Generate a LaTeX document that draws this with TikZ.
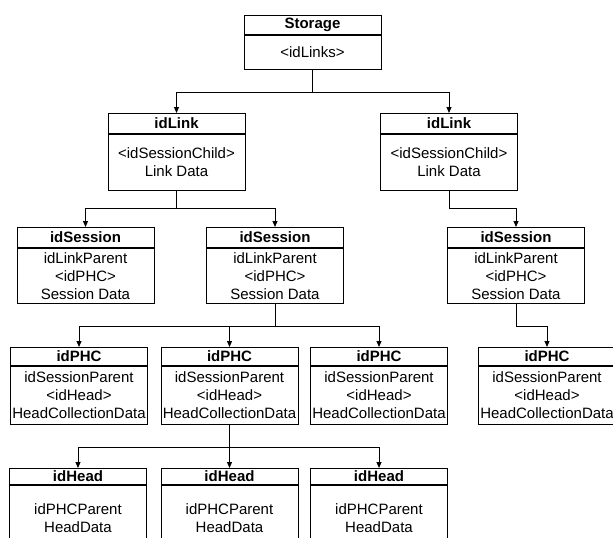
\documentclass[tikz,border=0pt]{standalone}
\usepackage{fontspec}
\setmainfont{Liberation Sans}
\usetikzlibrary{arrows.meta}
\tikzset{
  hdr/.style={draw, line width=1pt, minimum width=137pt, inner sep=0pt, anchor=north,
    font=\fontsize{15}{18}\selectfont\bfseries},
  bdy/.style={draw, line width=1pt, minimum width=137pt, inner sep=0pt, anchor=north, align=center,
    font=\fontsize{15}{18}\selectfont},
  arr/.style={line width=1pt, -{Triangle[length=6pt,width=5pt]}},
}
\begin{document}
\begin{tikzpicture}[x=1pt,y=-1pt]
\useasboundingbox (0,0) rectangle (613,538);
\clip (0,0) rectangle (613,538);
\fill[white] (0,0) rectangle (613,538);
% Storage
\node[hdr, minimum height=19pt] (st) at (312.5,15) {Storage};
\node[bdy, minimum height=34pt] (stb) at (st.south) {<idLinks>};
% idLink
\node[hdr, minimum height=20pt] (l1) at (176.5,113) {idLink};
\node[bdy, minimum height=56pt] (l1b) at (l1.south) {<idSessionChild>\\Link Data};
\node[hdr, minimum height=20pt] (l2) at (449,113) {idLink};
\node[bdy, minimum height=56pt] (l2b) at (l2.south) {<idSessionChild>\\Link Data};
% idSession
\node[hdr, minimum height=19.5pt] (s1) at (85.5,227) {idSession};
\node[bdy, minimum height=55.5pt] (s1b) at (s1.south) {idLinkParent\\<idPHC>\\Session Data};
\node[hdr, minimum height=19.5pt] (s2) at (275,227) {idSession};
\node[bdy, minimum height=55.5pt] (s2b) at (s2.south) {idLinkParent\\<idPHC>\\Session Data};
\node[hdr, minimum height=19.5pt] (s3) at (516,227) {idSession};
\node[bdy, minimum height=55.5pt] (s3b) at (s3.south) {idLinkParent\\<idPHC>\\Session Data};
% idPHC
\node[hdr, minimum height=18pt] (p1) at (79,347) {idPHC};
\node[bdy, minimum height=58pt] (p1b) at (p1.south) {idSessionParent\\<idHead>\\HeadCollectionData};
\node[hdr, minimum height=18pt] (p2) at (229.5,347) {idPHC};
\node[bdy, minimum height=58pt] (p2b) at (p2.south) {idSessionParent\\<idHead>\\HeadCollectionData};
\node[hdr, minimum height=18pt] (p3) at (379,347) {idPHC};
\node[bdy, minimum height=58pt] (p3b) at (p3.south) {idSessionParent\\<idHead>\\HeadCollectionData};
\node[hdr, minimum height=18pt] (p4) at (547,347) {idPHC};
\node[bdy, minimum height=58pt] (p4b) at (p4.south) {idSessionParent\\<idHead>\\HeadCollectionData};
% idHead
\node[hdr, minimum height=16pt] (h1) at (78,468) {idHead};
\node[bdy, minimum height=65pt] (h1b) at (h1.south) {idPHCParent\\HeadData};
\node[hdr, minimum height=16pt] (h2) at (229.5,468) {idHead};
\node[bdy, minimum height=65pt] (h2b) at (h2.south) {idPHCParent\\HeadData};
\node[hdr, minimum height=16pt] (h3) at (379,468) {idHead};
\node[bdy, minimum height=65pt] (h3b) at (h3.south) {idPHCParent\\HeadData};
% connectors
\draw[arr] (stb.south) -- ++(0,22) -| (l1.north);
\draw[arr] (stb.south) -- ++(0,22) -| (l2.north);
\draw[arr] (l1b.south) -- ++(0,17) -| (s1.north);
\draw[arr] (l1b.south) -- ++(0,17) -| (s2.north);
\draw[arr] (l2b.south) -- ++(0,17.5) -| (s3.north);
\draw[arr] (s2b.south) -- ++(0,22) -| (p1.north);
\draw[arr] (s2b.south) -- ++(0,22) -| (p2.north);
\draw[arr] (s2b.south) -- ++(0,22) -| (p3.north);
\draw[arr] (s3b.south) -- ++(0,22.5) -| (p4.north);
\draw[arr] (p2b.south) -- ++(0,22) -| (h1.north);
\draw[arr] (p2b.south) -- ++(0,22) -| (h2.north);
\draw[arr] (p2b.south) -- ++(0,22) -| (h3.north);
\end{tikzpicture}
\end{document}
